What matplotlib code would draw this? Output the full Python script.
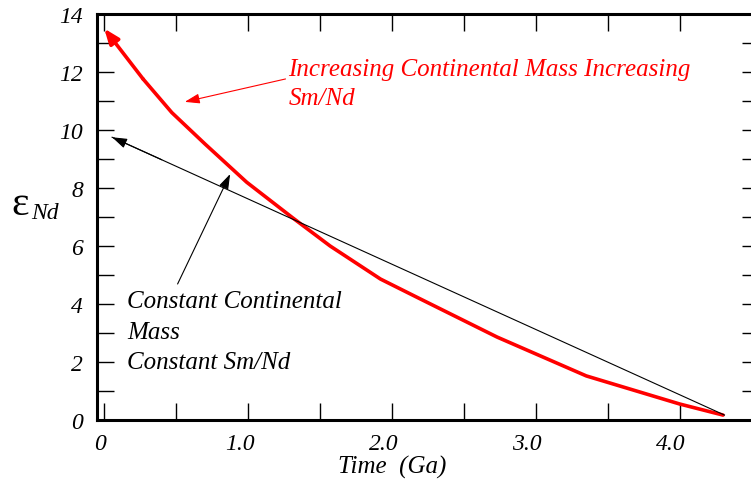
import numpy as np
import matplotlib.pyplot as plt
from matplotlib.ticker import MultipleLocator, FixedLocator

# data
red_t = [0.0, 0.27, 0.47, 0.70, 0.99, 1.31, 1.57, 1.92, 2.17, 2.73, 3.35, 4.0, 4.30]
red_e = [13.5, 11.76, 10.6, 9.52, 8.2, 6.97, 6.0, 4.86, 4.24, 2.86, 1.52, 0.55, 0.17]
black_t = [0.055, 4.31]
black_e = [9.75, 0.17]
xtick_vals = [0, 1, 2, 3, 4]
xtick_labels = ['0', '1.0', '2.0', '3.0', '4.0']
ytick_vals = [0, 2, 4, 6, 8, 10, 12, 14]

FONT = 'Liberation Serif'

fig = plt.figure(figsize=(7.51, 4.81), dpi=100)
ax = fig.add_axes([97 / 751, 60 / 481, 662 / 751, 406 / 481])
ax.set_xlim(-0.05, 4.55)
ax.set_ylim(0, 14)

# curves
ax.plot(red_t[1:], red_e[1:], color='red', lw=2.6, solid_capstyle='round',
        solid_joinstyle='round')
ax.annotate('', xy=(red_t[0], red_e[0]), xytext=(red_t[1], red_e[1]),
            arrowprops=dict(arrowstyle='-|>,head_length=0.9,head_width=0.35',
                            color='red', lw=2.6, shrinkA=0, shrinkB=0))
ax.plot(black_t, black_e, color='black', lw=0.8)
bx = 0.4
by = np.interp(bx, black_t, black_e)
ax.annotate('', xy=(black_t[0], black_e[0]), xytext=(bx, by),
            arrowprops=dict(arrowstyle='-|>,head_length=0.9,head_width=0.3',
                            color='black', lw=0.8, shrinkA=0, shrinkB=0))

# labels with pointer arrows
ax.annotate('', xy=(0.56, 10.97), xytext=(1.26, 11.76),
            arrowprops=dict(arrowstyle='-|>,head_length=0.9,head_width=0.3',
                            color='red', lw=0.8, shrinkA=0, shrinkB=0))
ax.annotate('', xy=(0.875, 8.48), xytext=(0.51, 4.69),
            arrowprops=dict(arrowstyle='-|>,head_length=0.9,head_width=0.3',
                            color='black', lw=0.8, shrinkA=0, shrinkB=0))

ax.text(1.28, 11.6, 'Increasing Continental Mass Increasing\nSm/Nd', color='red',
        fontsize=18, family=FONT, style='italic', va='center', ha='left',
        linespacing=1.45)
ax.text(0.16, 3.05, 'Constant Continental\nMass\nConstant Sm/Nd', color='black',
        fontsize=18, family=FONT, style='italic', va='center', ha='left',
        linespacing=1.5)

# axes styling
for s in ax.spines.values():
    s.set_linewidth(2.2)
ax.xaxis.set_major_locator(FixedLocator(xtick_vals))
ax.xaxis.set_minor_locator(MultipleLocator(0.5))
ax.yaxis.set_major_locator(FixedLocator(ytick_vals))
ax.yaxis.set_minor_locator(MultipleLocator(1))
ax.set_xticklabels(xtick_labels)
ax.set_yticklabels([str(v) for v in ytick_vals])
ax.tick_params(which='both', direction='in', length=12, width=1,
               top=True, right=True)
ax.tick_params(axis='x', which='major', labelbottom=False)
ax.tick_params(axis='y', which='major', pad=10, labelsize=17)
for lab in ax.get_yticklabels():
    lab.set_family(FONT)
    lab.set_style('italic')

for v, lab in zip(xtick_vals, xtick_labels):
    ax.text(v - 0.06 if v else v - 0.03, -0.8, lab, fontsize=17, family=FONT,
            style='italic', ha='center', va='center')

ax.text(2.0, -1.6, 'Time  (Ga)', fontsize=18, family=FONT, style='italic',
        ha='center', va='center')

# y-axis label: epsilon with italic Nd subscript
fig.text(11 / 751, 1 - 215 / 481, 'ε', fontsize=30, family=FONT,
         va='baseline', ha='left')
fig.text(31 / 751, 1 - 219 / 481, 'Nd', fontsize=17, family=FONT, style='italic',
         va='baseline', ha='left')

fig.savefig('out.png', dpi=100)
